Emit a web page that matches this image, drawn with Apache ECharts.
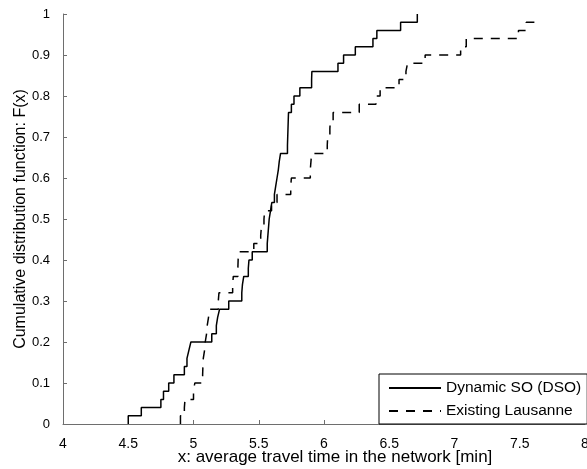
<!DOCTYPE html>
<html>
<head>
<meta charset="utf-8">
<script src="https://cdn.jsdelivr.net/npm/echarts@6/dist/echarts.min.js"></script>
<style>
html,body{margin:0;padding:0;background:#fff;overflow:hidden;}
#c{width:587px;height:469px;}
</style>
</head>
<body>
<div id="c"></div>
<script>
// Dynamic SO (DSO): sorted sample values and empirical CDF levels
var dsoX = [4.50,4.60,4.75,4.77,4.81,4.85,4.93,4.95,4.965,4.98,
            5.14,5.175,5.185,5.20,5.27,5.37,5.375,5.385,5.42,5.425,
            5.45,5.565,5.57,5.575,5.58,5.59,5.60,5.62,5.63,5.64,
            5.65,5.657,5.667,5.72,5.722,5.724,5.726,5.728,5.75,5.77,
            5.815,5.905,5.907,6.107,6.15,6.24,6.375,6.405,6.587,6.715];
var dsoY = [0.02,0.04,0.06,0.08,0.10,0.12,0.14,0.16,0.18,0.20,
            0.22,0.24,0.26,0.28,0.30,0.32,0.34,0.36,0.38,0.40,
            0.42,0.44,0.46,0.48,0.50,0.52,0.54,0.56,0.58,0.60,
            0.62,0.64,0.66,0.68,0.70,0.72,0.74,0.76,0.78,0.80,
            0.82,0.84,0.86,0.88,0.90,0.92,0.94,0.96,0.98,1.00];
// Existing Lausanne
var lausX = [4.90,4.93,4.935,5.00,5.01,5.07,5.072,5.075,5.085,5.09,
             5.10,5.105,5.115,5.125,5.19,5.195,5.30,5.305,5.34,5.342,
             5.345,5.462,5.515,5.52,5.54,5.545,5.598,5.64,5.745,5.75,
             5.895,5.90,5.905,6.025,6.028,6.045,6.048,6.07,6.27,6.398,
             6.43,6.575,6.628,6.64,6.775,7.047,7.09,7.49,7.55,7.63];
var lausY = [0.02,0.04,0.06,0.08,0.10,0.12,0.14,0.16,0.18,0.20,
             0.22,0.24,0.26,0.28,0.30,0.32,0.34,0.36,0.38,0.40,
             0.42,0.44,0.46,0.48,0.50,0.52,0.54,0.56,0.58,0.60,
             0.62,0.64,0.66,0.68,0.70,0.72,0.74,0.76,0.78,0.80,
             0.82,0.84,0.86,0.88,0.90,0.92,0.94,0.96,0.98,0.98];
var xTickLabels = ['4','4.5','5','5.5','6','6.5','7','7.5','8'];
var yTickLabels = ['0','0.1','0.2','0.3','0.4','0.5','0.6','0.7','0.8','0.9','1'];
var seriesNames = ['Dynamic SO (DSO)','Existing Lausanne'];
var xTitle = 'x: average travel time in the network [min]';
var yTitle = 'Cumulative distribution function: F(x)';

function cdfData(xs, ys) {
  var d = [[xs[0], 0]];
  for (var i = 0; i < xs.length; i++) d.push([xs[i], ys[i]]);
  return d;
}
var FONT = 'Liberation Sans, Arial, Helvetica, sans-serif';
var axisGray = '#6e6e6e';
var chart = echarts.init(document.getElementById('c'), null, {renderer: 'canvas'});
chart.setOption({
  animation: false,
  backgroundColor: '#fff',
  grid: {left: 63, top: 14, right: 2, bottom: 45, containLabel: false, outerBoundsMode: 'none'},
  xAxis: {
    type: 'value', min: 4, max: 8, interval: 0.5,
    name: xTitle, nameLocation: 'middle', nameGap: 25, nameMoveOverlap: false,
    nameTextStyle: {color: '#000', fontSize: 17, fontFamily: FONT, padding: [0, 0, 0, 22]},
    axisLine: {show: true, lineStyle: {color: axisGray, width: 1}},
    axisTick: {show: true, inside: true, length: 4, lineStyle: {color: axisGray}},
    axisLabel: {color: '#000', fontSize: 14, fontFamily: FONT, margin: 13,
      formatter: function (v, i) { return xTickLabels[i]; }},
    splitLine: {show: false}
  },
  yAxis: {
    type: 'value', min: 0, max: 1, interval: 0.1,
    name: yTitle, nameLocation: 'middle', nameGap: 34, nameRotate: 90, nameMoveOverlap: false,
    nameTextStyle: {color: '#000', fontSize: 16, fontFamily: FONT},
    axisLine: {show: true, lineStyle: {color: axisGray, width: 1}},
    axisTick: {show: true, inside: true, length: 4, lineStyle: {color: axisGray}},
    axisLabel: {color: '#000', fontSize: 13, fontFamily: FONT, margin: 13,
      formatter: function (v, i) { return yTickLabels[i]; }},
    splitLine: {show: false}
  },
  legend: {
    orient: 'vertical', left: 379, top: 374,
    padding: [5, 6, 4, 9],
    itemGap: 5, itemWidth: 52, itemHeight: 14,
    backgroundColor: '#fff', borderColor: '#000', borderWidth: 1, borderRadius: 0,
    itemStyle: {color: 'rgba(0,0,0,0)', borderWidth: 0, opacity: 0},
    textStyle: {color: '#000', fontSize: 15.5, fontFamily: FONT, lineHeight: 18},
    data: seriesNames
  },
  series: [
    {
      name: seriesNames[0], type: 'line', step: 'end', showSymbol: false, symbol: 'none',
      data: cdfData(dsoX, dsoY),
      lineStyle: {color: '#000', width: 1.5, type: 'solid'},
      itemStyle: {color: '#000'}
    },
    {
      name: seriesNames[1], type: 'line', step: 'end', showSymbol: false, symbol: 'none',
      data: cdfData(lausX, lausY),
      lineStyle: {color: '#000', width: 1.5, type: [9, 8]},
      itemStyle: {color: '#000'}
    }
  ]
});
</script>
</body>
</html>
